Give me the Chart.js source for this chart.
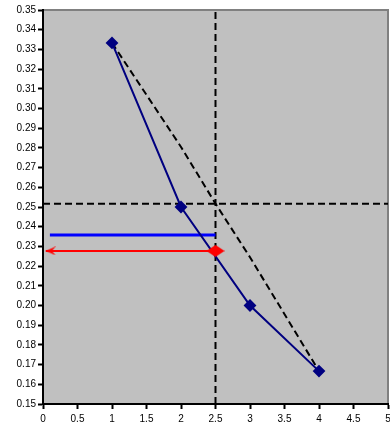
<!DOCTYPE html>
<html>
<head>
<meta charset="utf-8">
<script src="https://cdn.jsdelivr.net/npm/chart.js@4.4.1/dist/chart.umd.min.js"></script>
<style>
  html, body { margin: 0; padding: 0; background: #ffffff; }
  #wrap { width: 390px; height: 432px; }
</style>
</head>
<body>
<div id="wrap"><canvas id="c" width="390" height="432"></canvas></div>
<script>
// Sampled curve y = 1/(x+2)
const curveX = [1, 2, 3, 4];
const curveY = [0.3333, 0.25, 0.2, 0.1667];

// Interpolating curve between the end points
const interpX = [1, 2, 2.5, 3, 4];
const interpY = [0.3333, 0.2805, 0.2517, 0.2245, 0.1667];

// Reading at x = 2.5
const readX = 2.5;
const interpAtRead = 0.2517;
const blueLevel = 0.2358;
const blueStartX = 0.1;
const trueAtRead = 0.2277;
const arrowEndX = 0.04;

// Axis ranges and ticks
const xMin = 0, xMax = 5, xStep = 0.5;
const yMin = 0.15, yMax = 0.35, yStep = 0.01;

// Marker shapes
function makeDiamond(w, h, color) {
  const c = document.createElement('canvas');
  c.width = w; c.height = h;
  const g = c.getContext('2d');
  g.fillStyle = color;
  g.beginPath();
  g.moveTo(w / 2, 0); g.lineTo(w, h / 2); g.lineTo(w / 2, h); g.lineTo(0, h / 2);
  g.closePath(); g.fill();
  return c;
}
function makeArrowHead(w, h, color) {
  // open arrow head pointing left, tip at the centre of the canvas
  const c = document.createElement('canvas');
  c.width = w * 2; c.height = h;
  const g = c.getContext('2d');
  g.fillStyle = color;
  g.beginPath();
  g.moveTo(w, h / 2);
  g.lineTo(w + w, 0);
  g.lineTo(w + w * 0.6, h / 2);
  g.lineTo(w + w, h);
  g.closePath(); g.fill();
  return c;
}
const redDiamond = makeDiamond(18, 12, '#ff0000');
const redArrow = makeArrowHead(10, 9, '#ff0000');

const toPts = (xs, ys) => xs.map((x, i) => ({ x: x, y: ys[i] }));

const plotBg = {
  id: 'plotBg',
  beforeDraw(chart) {
    const { ctx, chartArea: a } = chart;
    ctx.save();
    ctx.fillStyle = '#c0c0c0';
    ctx.fillRect(a.left, a.top, a.right - a.left, a.bottom - a.top);
    ctx.strokeStyle = '#808080';
    ctx.lineWidth = 2;
    ctx.beginPath();
    ctx.moveTo(a.left, a.top);
    ctx.lineTo(a.right, a.top);
    ctx.lineTo(a.right, a.bottom);
    ctx.stroke();
    ctx.restore();
  }
};

const dash = [7, 4];

new Chart(document.getElementById('c'), {
  type: 'scatter',
  data: {
    datasets: [
      {
        data: toPts([readX, arrowEndX], [trueAtRead, trueAtRead]),
        showLine: true, borderColor: '#ff0000', borderWidth: 2,
        pointStyle: [redDiamond, redArrow], pointRadius: 6,
        backgroundColor: '#ff0000', clip: false, order: 0
      },
      {
        data: toPts(curveX, curveY),
        showLine: true, borderColor: '#000080', borderWidth: 2,
        pointStyle: 'rectRot', pointRadius: 5, backgroundColor: '#000080',
        pointBorderColor: '#000080', order: 1
      },
      {
        data: toPts([blueStartX, readX], [blueLevel, blueLevel]),
        showLine: true, borderColor: '#0000ff', borderWidth: 3,
        pointRadius: 0, order: 2
      },
      {
        data: toPts(interpX, interpY),
        showLine: true, borderColor: '#000000', borderWidth: 2,
        borderDash: dash, pointRadius: 0, order: 3
      },
      {
        data: toPts([xMin, xMax], [interpAtRead, interpAtRead]),
        showLine: true, borderColor: '#000000', borderWidth: 2,
        borderDash: dash, pointRadius: 0, order: 4
      },
      {
        data: toPts([readX, readX], [yMin, yMax]),
        showLine: true, borderColor: '#000000', borderWidth: 2,
        borderDash: dash, pointRadius: 0, order: 5
      }
    ]
  },
  options: {
    responsive: false,
    animation: false,
    events: [],
    layout: { autoPadding: false, padding: { top: 10, right: 2, left: 0, bottom: 0 } },
    plugins: { legend: { display: false }, tooltip: { enabled: false } },
    scales: {
      x: {
        type: 'linear', min: xMin, max: xMax,
        ticks: {
          stepSize: xStep, color: '#000000', padding: 4,
          font: { family: 'Liberation Sans, Arial', size: 10 },
          maxRotation: 0, autoSkip: false,
          callback: v => String(v)
        },
        grid: { drawOnChartArea: false, tickLength: 5, tickColor: '#000000', tickWidth: 2 },
        border: { color: '#000000', width: 2 },
        afterFit: s => { s.height = 28; s.paddingRight = 0; s.paddingLeft = 0; }
      },
      y: {
        type: 'linear', min: yMin, max: yMax,
        ticks: {
          stepSize: yStep, color: '#000000', padding: 2,
          font: { family: 'Liberation Sans, Arial', size: 10 },
          autoSkip: false,
          callback: v => Number(v).toFixed(2)
        },
        grid: { drawOnChartArea: false, tickLength: 5, tickColor: '#000000', tickWidth: 2 },
        border: { color: '#000000', width: 2 },
        afterFit: s => { s.width = 43; s.paddingTop = 0; s.paddingBottom = 0; }
      }
    }
  },
  plugins: [plotBg]
});
</script>
</body>
</html>
